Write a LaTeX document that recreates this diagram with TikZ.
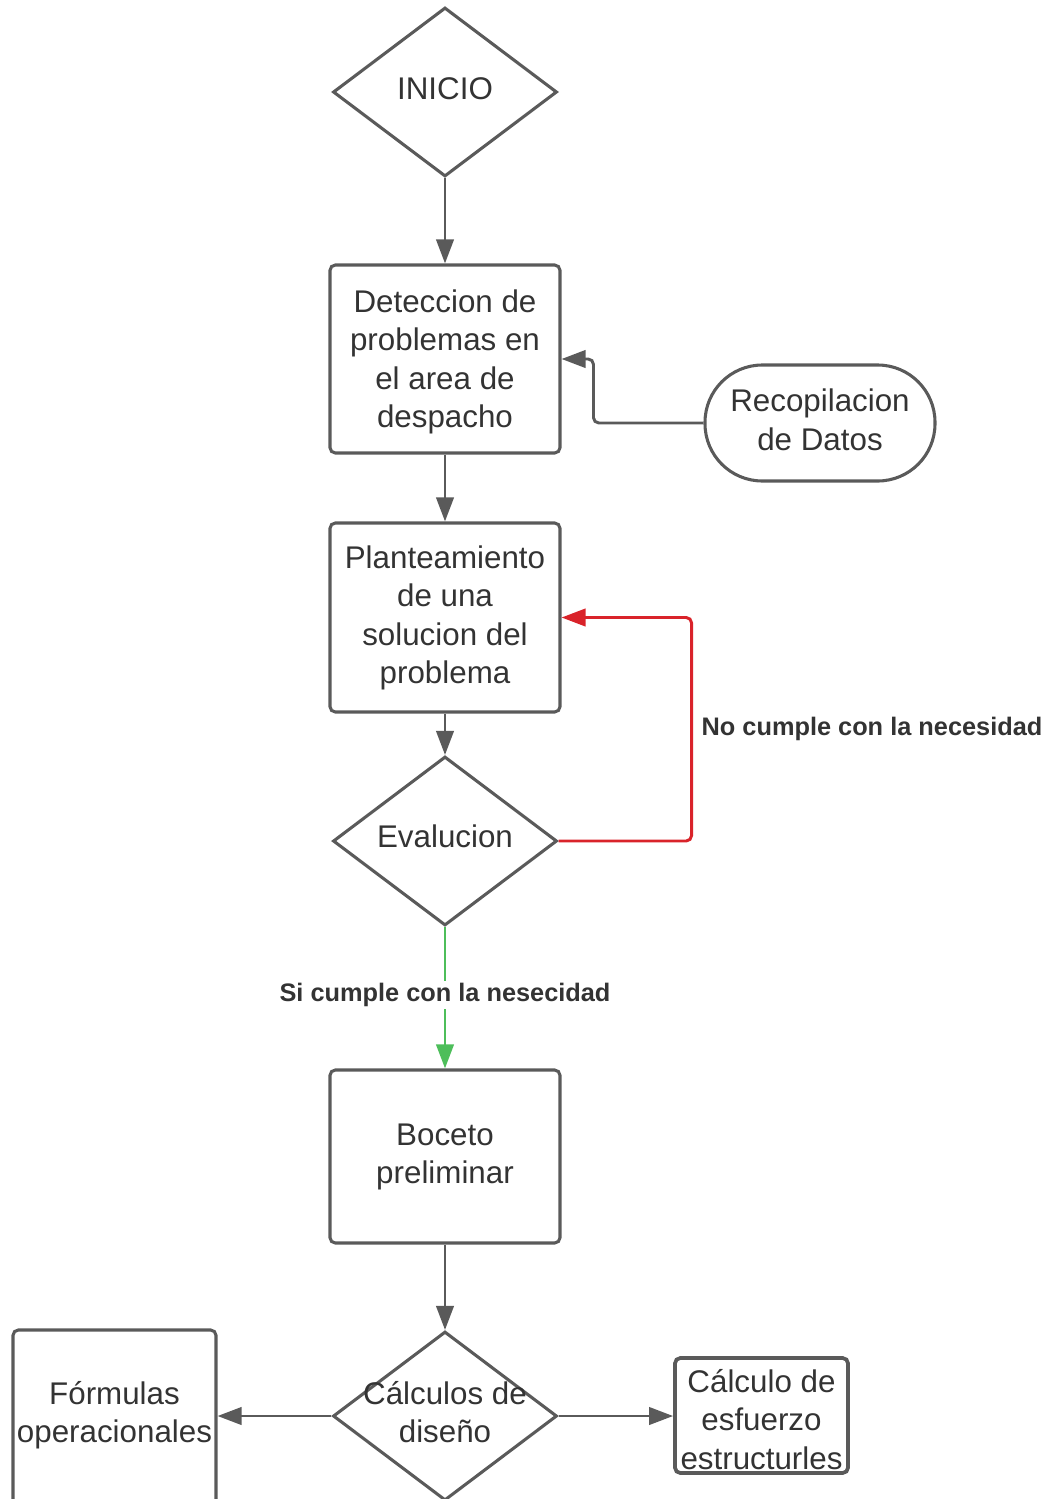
\documentclass[tikz,border=0pt]{standalone}
\usepackage{fontspec}
\setmainfont{Liberation Sans}
\usetikzlibrary{shapes.geometric,arrows.meta}
\definecolor{ln}{HTML}{5A5A5A}
\definecolor{tx}{HTML}{333333}
\definecolor{rd}{HTML}{D9232A}
\definecolor{gn}{HTML}{4DBE5A}
\begin{document}
\begin{tikzpicture}[x=0.75pt,y=-0.75pt,
 every node/.style={text=tx, font=\fontsize{23.5}{28.9}\selectfont, align=center, inner sep=0pt},
 boxnode/.style={draw=ln, line width=2.3pt, rounded corners=4pt, minimum width=172.5pt},
 dia/.style={diamond, draw=ln, line width=2.3pt, minimum width=168pt, minimum height=126.75pt},
 conn/.style={draw=ln, line width=2.2pt, rounded corners=4pt, -{Triangle[length=18pt,width=13pt]}},
 lbl/.style={font=\bfseries\fontsize{19}{22}\selectfont}]
\useasboundingbox (0,0) rectangle (1051,1499);
\clip (0,0) rectangle (1051,1499);

\node[dia] (ini) at (445,92) {};
\node (initxt) at (445,89) {INICIO};
\node[boxnode, minimum height=141pt] (det) at (445,359) {};
\node (dettxt) at (445,362) {Deteccion de\\problemas en\\el area de\\despacho};
\node[draw=ln, line width=2.3pt, rounded corners=43pt, minimum width=172.5pt, minimum height=87pt] (rec) at (820,423) {};
\node (rectxt) at (820,420) {Recopilacion\\de Datos};
\node[boxnode, minimum height=141.75pt] (pla) at (445,617.5) {};
\node (platxt) at (445,618) {Planteamiento\\de una\\solucion del\\problema};
\node[dia] (ev) at (445,841) {};
\node (evtxt) at (445,836) {Evalucion};
\node[boxnode, minimum height=129.75pt] (bo) at (445,1156.5) {};
\node (botxt) at (445,1157) {Boceto\\preliminar};
\node[dia] (ca) at (445,1416) {};
\node (catxt) at (445,1412) {Cálculos de\\diseño};
\node[boxnode, minimum width=152.25pt, minimum height=132pt] (fo) at (114.5,1418) {};
\node (fotxt) at (114.5,1415) {Fórmulas\\operacionales};
\node[boxnode, line width=2.8pt, minimum width=129.75pt, minimum height=86.25pt] (es) at (761.5,1415.5) {};
\node (estxt) at (761.5,1419.5) {Cálculo de\\esfuerzo\\estructurles};

\draw[conn] (ini.south) -- (det.north);
\draw[conn] (rec.west) -- ++(-110,0) |- (det.east);
\draw[conn] (det.south) -- (pla.north);
\draw[conn] (pla.south) -- (ev.north);
\draw[conn, draw=rd, -{Triangle[length=18pt,width=13pt,fill=rd]}] (ev.east) -- ++(133,0) |- (pla.east);
\node[lbl] (nolbl) at (872,729) {No cumple con la necesidad};
\draw[conn, draw=gn, -{Triangle[length=18pt,width=13pt,fill=gn]}] (ev.south) -- (bo.north);
\node[lbl, fill=white, inner sep=2pt] (silbl) at (445,995) {Si cumple con la nesecidad};
\draw[conn] (bo.south) -- (ca.north);
\draw[conn] (ca.west) -- (ca.west -| fo.east);
\draw[conn] (ca.east) -- (ca.east -| es.west);
\end{tikzpicture}
\end{document}
